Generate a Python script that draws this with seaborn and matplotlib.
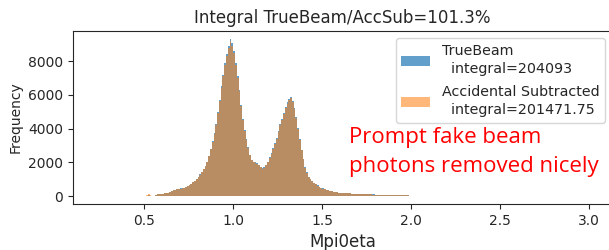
import numpy as np
import pandas as pd
import matplotlib
matplotlib.use("Agg")
import matplotlib.pyplot as plt
import seaborn as sns

# -----------------------------
# Data: histogram counts, 0.01 wide bins from Mpi0eta = 0.50 to 2.00
# -----------------------------
bin_start = 0.50
bin_width = 0.01

true_beam = [
    0, 0, 60, 30, 0, 0, 40, 120, 140, 130,
    150, 160, 170, 200, 250, 300, 340, 380, 410, 430,
    450, 480, 500, 560, 620, 680, 740, 820, 900, 1000,
    1120, 1280, 1450, 1620, 1800, 2050, 2400, 2800, 3250, 3750,
    4250, 5000, 5700, 6500, 7200, 7900, 8400, 8900, 9300, 9050,
    8600, 7900, 7100, 6300, 5400, 4600, 3900, 3400, 2900, 2450,
    2150, 2050, 2000, 1950, 1850, 1750, 1650, 1700, 1850, 2050,
    2300, 2550, 2850, 3150, 3450, 3850, 4250, 4600, 4950, 5300,
    5550, 5750, 5900, 5650, 5250, 4700, 4050, 3400, 2750, 2200,
    1700, 1400, 1150, 1000, 880, 780, 700, 630, 560, 500,
    450, 410, 370, 340, 310, 290, 270, 250, 230, 210,
    200, 190, 180, 170, 165, 160, 150, 145, 140, 135,
    130, 125, 120, 115, 110, 105, 100, 100, 95, 95,
    90, 90, 85, 85, 80, 80, 80, 75, 75, 75,
    70, 70, 70, 65, 65, 65, 60, 55, 40, 0,
]

acc_sub = [
    0, 90, 110, 80, 0, 0, 40, 115, 135, 125,
    145, 155, 165, 195, 245, 295, 335, 375, 405, 425,
    445, 475, 495, 550, 610, 670, 730, 810, 890, 985,
    1105, 1265, 1430, 1600, 1780, 2025, 2370, 2765, 3210, 3700,
    4195, 4935, 5625, 6415, 7105, 7795, 8290, 8780, 9180, 8930,
    8490, 7800, 7010, 6220, 5330, 4540, 3850, 3355, 2860, 2420,
    2120, 2025, 1975, 1925, 1825, 1725, 1630, 1680, 1825, 2025,
    2270, 2515, 2810, 3110, 3405, 3800, 4195, 4540, 4885, 5230,
    5475, 5670, 5800, 5570, 5180, 4640, 4000, 3355, 2715, 2170,
    1680, 1380, 1135, 985, 870, 770, 690, 620, 550, 495,
    445, 405, 365, 335, 305, 285, 265, 245, 225, 205,
    195, 185, 175, 165, 160, 155, 145, 140, 135, 130,
    125, 120, 115, 110, 105, 100, 95, 95, 90, 90,
    85, 85, 80, 80, 75, 75, 75, 70, 70, 70,
    65, 65, 65, 60, 60, 60, 55, 50, 35, 0,
]

labels = ["TrueBeam\n  integral=204093", "Accidental Subtracted\n  integral=201471.75"]
title = "Integral TrueBeam/AccSub=101.3%"
note = "Prompt fake beam\nphotons removed nicely"

# -----------------------------
# Build long-form table
# -----------------------------
n = len(true_beam)
edges = [round(bin_start + bin_width * i, 4) for i in range(n + 1)]
centers = [e + bin_width / 2 for e in edges[:-1]]
df = pd.DataFrame({
    "Mpi0eta": centers + centers,
    "count": true_beam + acc_sub,
    "sample": [labels[0]] * n + [labels[1]] * n,
})

# -----------------------------
# Plot
# -----------------------------
sns.set_style("ticks")
fig = plt.figure(figsize=(6.09, 2.5), dpi=100)
ax = fig.add_axes([0.12, 0.184, 0.885, 0.692])

sns.histplot(data=df[df["sample"] == labels[0]], x="Mpi0eta", weights="count",
             bins=edges, color="#1f77b4", alpha=0.7, linewidth=0,
             label=labels[0], ax=ax)
sns.histplot(data=df[df["sample"] == labels[1]], x="Mpi0eta", weights="count",
             bins=edges, color="#ff7f0e", alpha=0.55, linewidth=0,
             label=labels[1], ax=ax)

ax.set_xlim(0.1, 3.13)
ax.set_ylim(-470, 9790)
ax.set_xticks([0.5, 1.0, 1.5, 2.0, 2.5, 3.0])
ax.set_yticks([0, 2000, 4000, 6000, 8000])
ax.tick_params(labelsize=10)
ax.set_xlabel("Mpi0eta", fontsize=12)
ax.set_ylabel("Frequency", fontsize=10)
ax.set_title(title, fontsize=12)
leg = ax.legend(loc="upper right", fontsize=10.3, frameon=True, labelspacing=0.6)
for t in leg.get_texts():
    t.set_linespacing(1.4)

fig.text(0.573, 0.49, note, color="red", fontsize=16, family="Open Sans",
         va="top", linespacing=1.45)

fig.savefig("out.png", dpi=100)
